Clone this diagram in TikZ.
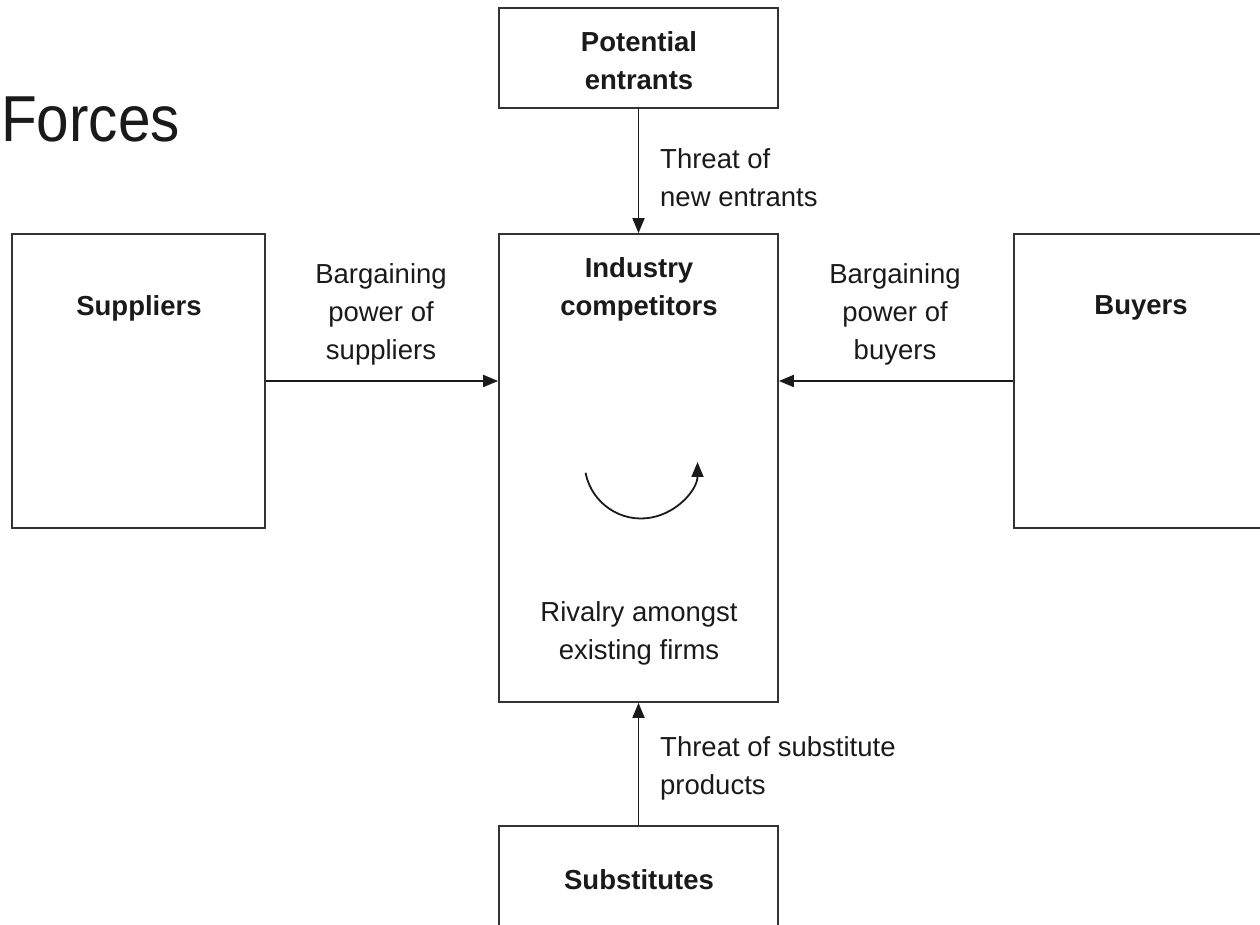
\documentclass[tikz,border=0pt]{standalone}
\usepackage{fontspec}
\setmainfont{Liberation Sans}
\usetikzlibrary{arrows.meta}
\definecolor{ink}{HTML}{1A1A1A}
\definecolor{edge}{HTML}{333333}
\begin{document}
\begin{tikzpicture}[x=1pt,y=1pt,
  box/.style={draw=edge, line width=1.7pt, rectangle, inner sep=0pt},
  title/.style={font=\fontsize{27.5}{38}\selectfont\bfseries, text=ink, align=center, inner sep=0pt},
  lbl/.style={font=\fontsize{27.5}{38}\selectfont, text=ink, inner sep=0pt},
  arr/.style={draw=ink, line width=1.8pt, -{Triangle[length=15pt,width=12pt]}}]
\useasboundingbox (0,0) rectangle (1260,924);
\clip (0,0) rectangle (1260,924);
% boxes
\node[box, minimum width=253pt, minimum height=294pt] (sup) at (138.5,543) {};
\node[box, minimum width=279pt, minimum height=468pt] (ind) at (638.5,456) {};
\node[box, minimum width=254pt, minimum height=294pt] (buy) at (1141,543) {};
\node[box, minimum width=279pt, minimum height=100pt] (ent) at (638.5,866) {};
\node[box, minimum width=279pt, minimum height=100pt] (sub) at (638.5,48) {};
% box texts
\node[title] (tsup) at (139,616) {Suppliers};
\node[title] (tbuy) at (1141,616) {Buyers};
\node[title] (tind) at (639,635) {Industry\\competitors};
\node[title] (tent) at (639,863) {Potential\\entrants};
\node[title] (tsub) at (639,44) {Substitutes};
\node[lbl, align=center] (trv) at (639,291) {Rivalry amongst\\existing firms};
% force labels
\node[lbl, align=center] (bps) at (381,610) {Bargaining\\power of\\suppliers};
\node[lbl, align=center] (bpb) at (895,610) {Bargaining\\power of\\buyers};
\node[lbl, align=left, anchor=west] (tne) at (660,746) {Threat of\\new entrants};
\node[lbl, align=left, anchor=west] (tsp) at (660,155.5) {Threat of substitute\\products};
% title
\node[font=\fontsize{65}{70}\selectfont, text=ink, inner sep=0pt, anchor=base west, xscale=0.9] (forces) at (1,782) {Forces};
% connectors
\draw[arr] (sup.east) -- (ind.west |- sup.east);
\draw[arr] (buy.west) -- (ind.east |- buy.west);
\draw[arr] (ent.south) -- (ind.north);
\draw[arr] (sub.north) -- (ind.south);
% rivalry arrow
\draw[arr] (641,462) ++(191:56.5pt) arc[start angle=191, end angle=360, radius=56.5pt];
\end{tikzpicture}
\end{document}
